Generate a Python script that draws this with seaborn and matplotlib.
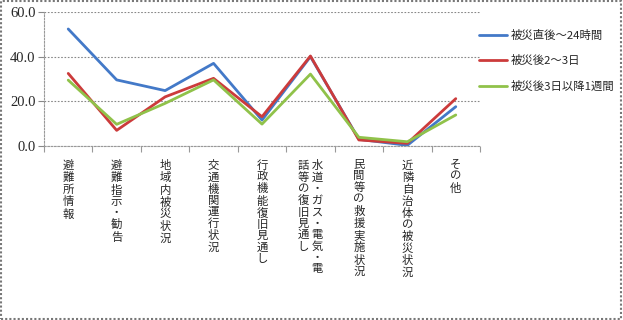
import matplotlib
matplotlib.use("Agg")
import matplotlib.pyplot as plt
import seaborn as sns
import pandas as pd
from matplotlib.patches import Rectangle

categories = [
    "避難所情報", "避難指示・勧告", "地域内被災状況", "交通機関運行状況",
    "行政機能復旧見通し", "水道・ガス・電気・電話等の復旧見通し",
    "民間等の救援実施状況", "近隣自治体の被災状況", "その他",
]
series_names = ["被災直後～24時間", "被災後2～3日", "被災後3日以降1週間"]
s_24h = [52.4, 29.6, 24.8, 37.0, 11.6, 40.0, 3.0, 0.3, 17.6]
s_2_3d = [32.5, 7.0, 22.0, 30.3, 13.1, 40.3, 2.7, 1.2, 21.2]
s_1w = [29.5, 9.7, 19.1, 29.6, 9.8, 32.2, 3.9, 1.9, 13.9]
yticks = [0, 20, 40, 60]
colors = ["#4379C8", "#CC3B3B", "#90C24A"]

rows = []
for name, vals in zip(series_names, [s_24h, s_2_3d, s_1w]):
    for i, v in enumerate(vals):
        rows.append({"idx": i, "value": v, "series": name})
df = pd.DataFrame(rows)

sns.set_theme(style="white")
plt.rcParams["font.family"] = ["Noto Sans CJK JP", "DejaVu Sans"]

fig = plt.figure(figsize=(6.23, 3.20), dpi=100)
ax = fig.add_axes([44 / 623, 1 - 146 / 320, (480 - 44) / 623, (146 - 12) / 320])

sns.lineplot(data=df, x="idx", y="value", hue="series", palette=colors,
             linewidth=2.0, ax=ax, legend=True)

ax.set_xlim(-0.5, len(categories) - 0.5)
ax.set_ylim(0, 60)
ax.set_yticks(yticks)
ax.set_yticklabels([f"{t:.1f}" for t in yticks], family="Liberation Serif", fontsize=10.5)
ax.yaxis.grid(True, linestyle=(0, (1.5, 1.5)), color="#888888", linewidth=0.8)
ax.set_axisbelow(True)
ax.tick_params(axis="y", left=True, length=4, width=0.8, color="#888888", pad=2)


def vertical(label):
    if len(label) <= 10:
        return "\n".join(label)
    col1 = label[:10]
    col2 = label[10:]
    lines = []
    for i in range(len(col1)):
        c2 = col2[i] if i < len(col2) else "　"
        lines.append(c2 + " " + col1[i])
    return "\n".join(lines)


ax.set_xticks(range(len(categories)))
ax.set_xticklabels([vertical(c) for c in categories], fontsize=8.2,
                   linespacing=1.14, va="top", ha="center")
ax.tick_params(axis="x", bottom=False, pad=4)
ax.set_xticks([i - 0.5 for i in range(len(categories) + 1)], minor=True)
ax.tick_params(axis="x", which="minor", bottom=True, length=4, width=0.8, color="#999999")
ax.set_xlabel("")
ax.set_ylabel("")

for side in ["top", "right"]:
    ax.spines[side].set_visible(False)
for side in ["left", "bottom"]:
    ax.spines[side].set_color("#999999")
    ax.spines[side].set_linewidth(0.8)
    ax.spines[side].set_linestyle((0, (1.5, 1.5)))

handles, labels = ax.get_legend_handles_labels()
ax.legend(handles, labels, loc="upper left", bbox_to_anchor=(474 / 623, 1 - 25 / 320),
          bbox_transform=fig.transFigure, frameon=False, fontsize=8.2,
          handlelength=2.5, handletextpad=0.3, labelspacing=1.3, borderaxespad=0)

fig.patches.append(Rectangle((0.002, 0.003), 0.995, 0.993, transform=fig.transFigure,
                             fill=False, edgecolor="#777777", linewidth=1.5,
                             linestyle=(0, (1, 1))))

fig.savefig("out.png", dpi=100)
